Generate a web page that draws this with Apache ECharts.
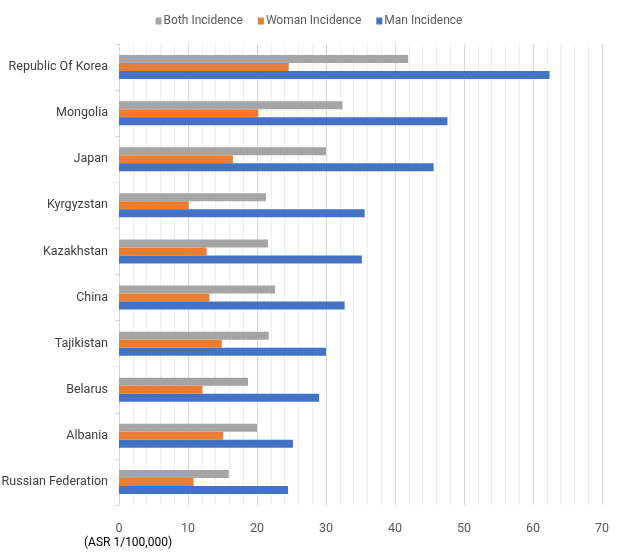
<!DOCTYPE html>
<html>
<head>
<meta charset="utf-8">
<script src="https://cdn.jsdelivr.net/npm/echarts@6/dist/echarts.min.js"></script>
<style>
  html, body { margin: 0; padding: 0; background: #fff; }
  #chart { width: 618px; height: 555px; }
</style>
</head>
<body>
<div id="chart"></div>
<script>
// 国家（从上到下）
var countries = ['Republic Of Korea', 'Mongolia', 'Japan', 'Kyrgyzstan', 'Kazakhstan', 'China', 'Tajikistan', 'Belarus', 'Albania', 'Russian Federation']
var bothIncidence = [41.9, 32.4, 30.0, 21.3, 21.6, 22.6, 21.7, 18.7, 20.0, 15.9]
var womanIncidence = [24.6, 20.2, 16.5, 10.1, 12.7, 13.1, 14.9, 12.1, 15.1, 10.8]
var manIncidence = [62.4, 47.6, 45.6, 35.6, 35.2, 32.7, 30.0, 29.0, 25.2, 24.5]
var xTicks = [0, 10, 20, 30, 40, 50, 60, 70]

var font = "Roboto, sans-serif"
var chart = echarts.init(document.getElementById('chart'))

var option = {
  animation: false,
  color: ['#A5A5A5', '#ED7D31', '#4472C4'],
  textStyle: { fontFamily: font },
  title: {
    text: '(ASR 1/100,000)',
    left: 84,
    top: 537,
    padding: 0,
    textStyle: { fontFamily: font, fontSize: 12, fontWeight: 'normal', color: '#000' }
  },
  legend: {
    top: 10,
    left: 'center',
    itemWidth: 6,
    itemHeight: 7,
    itemGap: 15,
    icon: 'rect',
    textStyle: { fontFamily: font, fontSize: 12, color: '#595959', padding: [0, 0, 0, -3] },
    data: ['Both Incidence', 'Woman Incidence', 'Man Incidence']
  },
  grid: { left: 119, right: 16, top: 44, bottom: 50, outerBoundsMode: 'none', containLabel: false },
  xAxis: {
    type: 'value',
    min: xTicks[0],
    max: xTicks[xTicks.length - 1],
    interval: 10,
    axisLine: { show: false },
    axisTick: { show: false },
    axisLabel: { color: '#595959', fontSize: 12.5, margin: 17, fontFamily: font },
    splitLine: { lineStyle: { color: '#d9d9d9' } },
    minorTick: { show: false, splitNumber: 5 },
    minorSplitLine: { show: true, lineStyle: { color: '#eeeeee' } }
  },
  yAxis: {
    type: 'category',
    inverse: true,
    data: countries,
    axisLine: { lineStyle: { color: '#d9d9d9' } },
    axisTick: { show: true, length: 4, lineStyle: { color: '#d9d9d9' } },
    axisLabel: { color: '#404040', fontSize: 12.5, margin: 11, fontFamily: font }
  },
  series: [
    { name: 'Both Incidence', type: 'bar', data: bothIncidence, barWidth: 8, barGap: '0%' },
    { name: 'Woman Incidence', type: 'bar', data: womanIncidence, barWidth: 8, barGap: '0%' },
    { name: 'Man Incidence', type: 'bar', data: manIncidence, barWidth: 8, barGap: '0%' }
  ]
}

chart.setOption(option)
</script>
</body>
</html>
